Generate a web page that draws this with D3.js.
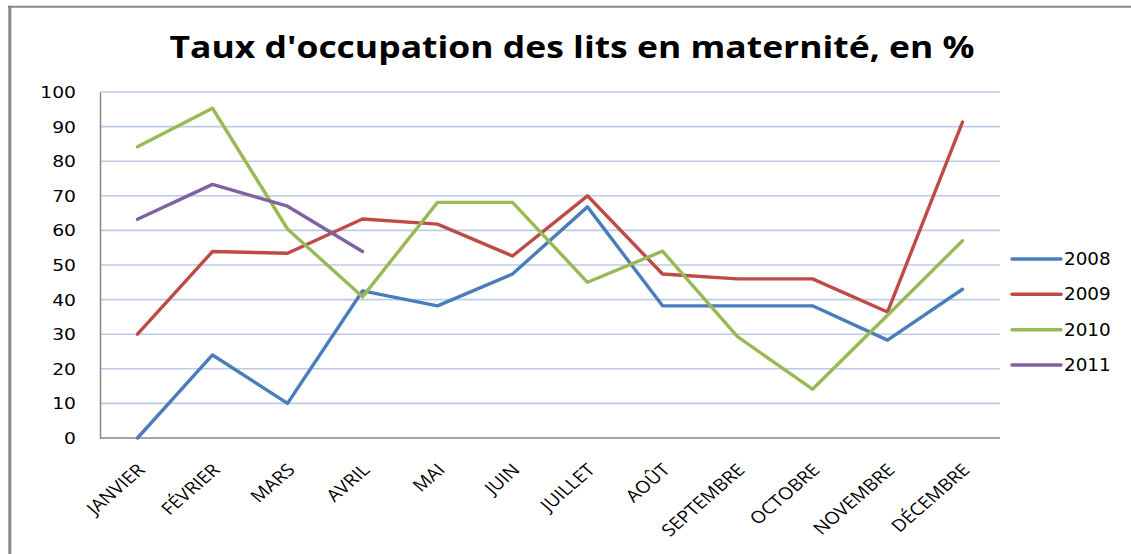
<!DOCTYPE html>
<html>
<head>
<meta charset="utf-8">
<script src="https://cdn.jsdelivr.net/npm/d3@7"></script>
<style>
  html, body { margin: 0; padding: 0; background: #fff; }
  svg { display: block; }
</style>
</head>
<body>
<svg id="chart" width="1131" height="554"></svg>
<script>
const months = ["JANVIER", "FÉVRIER", "MARS", "AVRIL", "MAI", "JUIN", "JUILLET", "AOÛT", "SEPTEMBRE", "OCTOBRE", "NOVEMBRE", "DÉCEMBRE"];
const years = ["2008", "2009", "2010", "2011"];
const values2008 = [0, 24, 10, 42.5, 38.2, 47.4, 66.8, 38.2, 38.2, 38.2, 28.3, 43];
const values2009 = [30, 53.9, 53.4, 63.3, 61.8, 52.6, 70, 47.4, 46, 46, 36.4, 91.3];
const values2010 = [84.2, 95.3, 60.4, 40.8, 68.1, 68.1, 45, 54, 29.3, 14.1, 35.5, 57];
const values2011 = [63.2, 73.3, 67, 53.9];
const yTicks = [0, 10, 20, 30, 40, 50, 60, 70, 80, 90, 100];
const colors = ["#4a7ebb", "#be4b48", "#98b954", "#7f62a1"];
const title = "Taux d'occupation des lits en maternité, en %";

const seriesValues = [values2008, values2009, values2010, values2011];

const svg = d3.select("#chart");
const plotLeft = 100, plotRight = 1000, plotTop = 92, plotBottom = 438;

const x = d3.scalePoint().domain(months).range([plotLeft, plotRight]).padding(0.5);
const y = d3.scaleLinear().domain([0, 100]).range([plotBottom, plotTop]);

// outer frame (top and left edges visible)
svg.append("line").attr("x1", 8).attr("x2", 1131).attr("y1", 6.7).attr("y2", 6.7)
  .attr("stroke", "#888").attr("stroke-width", 2);
svg.append("line").attr("x1", 9.8).attr("x2", 9.8).attr("y1", 5.7).attr("y2", 554)
  .attr("stroke", "#888").attr("stroke-width", 3);

// title
svg.append("text")
  .attr("x", 572).attr("y", 58)
  .attr("text-anchor", "middle")
  .attr("font-family", "'Open Sans', sans-serif")
  .attr("font-weight", "bold")
  .attr("font-size", 31)
  .attr("textLength", 805)
  .attr("lengthAdjust", "spacingAndGlyphs")
  .attr("fill", "#000")
  .text(title);

// gridlines
svg.append("g").selectAll("line").data(yTicks.filter(d => d > 0)).join("line")
  .attr("x1", plotLeft).attr("x2", plotRight)
  .attr("y1", d => y(d)).attr("y2", d => y(d))
  .attr("stroke", "#bccbe8").attr("stroke-width", 1.6);

// y axis
const yAxis = d3.axisLeft(y).tickValues(yTicks).tickSize(0).tickPadding(0);
const gy = svg.append("g").attr("transform", `translate(${plotLeft},0)`).call(yAxis);
gy.select(".domain").attr("stroke", "#868686").attr("stroke-width", 1.5);
gy.selectAll(".tick text").remove();
gy.selectAll(".tick").append("text")
  .attr("transform", "translate(-24,0) scale(1.25,1)")
  .attr("text-anchor", "end")
  .attr("dy", "0.36em")
  .attr("font-family", "'DejaVu Sans', sans-serif")
  .attr("font-size", 15)
  .attr("fill", "#000")
  .text(d => d);

// x axis
const xAxis = d3.axisBottom(x).tickSize(0).tickPadding(0);
const gx = svg.append("g").attr("transform", `translate(0,${plotBottom})`).call(xAxis);
gx.select(".domain").attr("stroke", "#868686").attr("stroke-width", 1.5).attr("d", `M${plotLeft},0H${plotRight}`);
gx.selectAll(".tick text").remove();
gx.selectAll(".tick").append("text")
  .attr("transform", "translate(8,33) scale(1.15,1) rotate(-45)")
  .attr("text-anchor", "end")
  .attr("font-family", "'Open Sans', sans-serif")
  .attr("font-size", 17)
  .attr("fill", "#000")
  .text(d => d);

// lines
const line = d3.line()
  .x((d, i) => x(months[i]))
  .y(d => y(d));

svg.append("g").selectAll("path").data(seriesValues).join("path")
  .attr("d", d => line(d))
  .attr("fill", "none")
  .attr("stroke", (d, i) => colors[i])
  .attr("stroke-width", 3.4)
  .attr("stroke-linejoin", "round")
  .attr("stroke-linecap", "round");

// legend
const legendY = d3.scalePoint().domain(years).range([259, 365]);
const lg = svg.append("g").selectAll("g").data(years).join("g")
  .attr("transform", d => `translate(0,${legendY(d)})`);
lg.append("line").attr("x1", 1012).attr("x2", 1061).attr("y1", 0).attr("y2", 0)
  .attr("stroke", (d, i) => colors[i]).attr("stroke-width", 3.5).attr("stroke-linecap", "round");
lg.append("text")
  .attr("transform", "translate(1064,0) scale(1.08,1)")
  .attr("dy", "0.36em")
  .attr("font-family", "'DejaVu Sans', sans-serif")
  .attr("font-size", 17)
  .attr("fill", "#000")
  .text(d => d);
</script>
</body>
</html>
